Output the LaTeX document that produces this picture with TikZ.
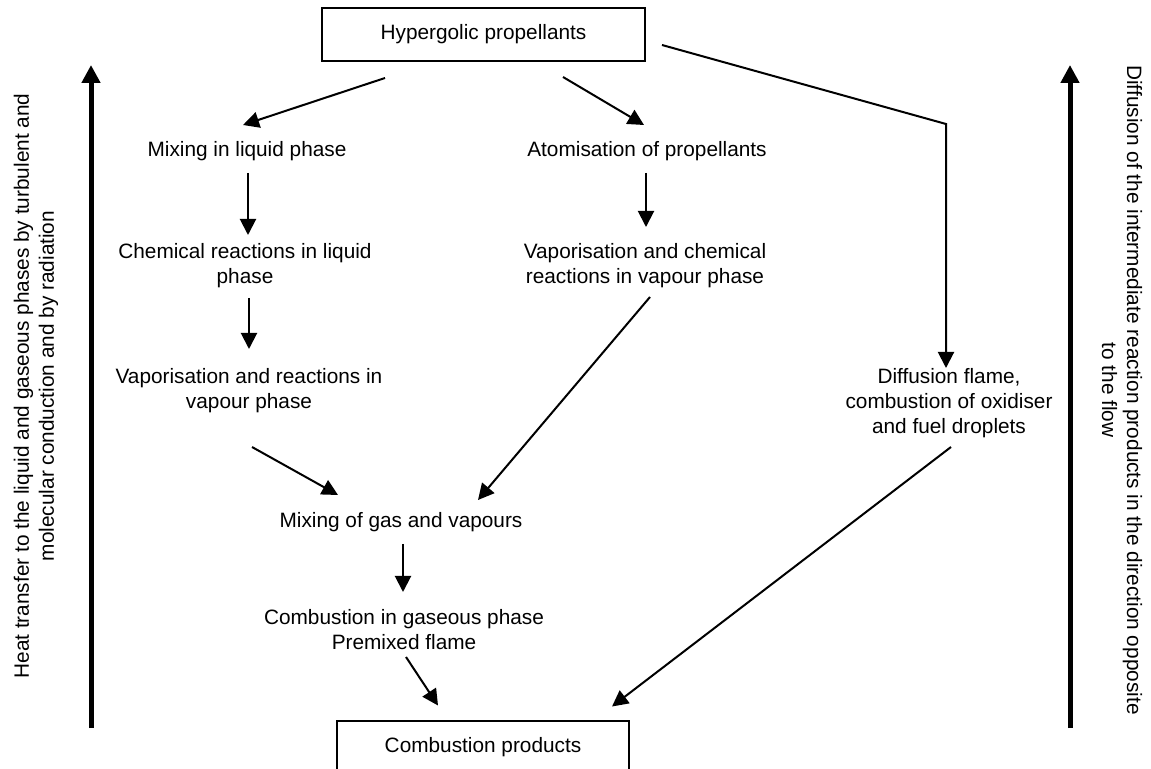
\documentclass[tikz,border=0pt]{standalone}
\usepackage{fontspec}
\setmainfont{Liberation Sans}
\usetikzlibrary{arrows.meta,calc}
\begin{document}
\begin{tikzpicture}[x=0.5pt,y=-0.5pt,font=\fontsize{10.4}{12.5}\selectfont,
  box/.style={draw,line width=1pt,minimum width=#1,minimum height=26.5pt,inner sep=0pt},
  txt/.style={align=center,inner sep=0pt},
  arr/.style={-{Triangle[length=8pt,width=8pt]},line width=1pt},
  bigarr/.style={-{Triangle[length=9pt,width=9pt]},line width=2.5pt}]
\clip (0,0) rectangle (1151,769);
\node[box=161.5pt](N1) at (483.5,34.5) {Hypergolic propellants};
\node[txt](N2) at (247,151) {Mixing in liquid phase};
\node[txt](N3) at (647,151) {Atomisation of propellants};
\node[txt](N4) at (245,266) {Chemical reactions in liquid\\phase};
\node[txt](N5) at (645,266) {Vaporisation and chemical\\reactions in vapour phase};
\node[txt](N6) at (249,391) {Vaporisation and reactions in\\vapour phase};
\node[txt](N7) at (949,403) {Diffusion flame,\\combustion of oxidiser\\and fuel droplets};
\node[txt](N8) at (401,522) {Mixing of gas and vapours};
\node[txt](N9) at (404,630) {Combustion in gaseous phase\\Premixed flame};
\node[box=146pt](N10) at (483,747.5) {Combustion products};
\node[txt,rotate=90](N11) at (36,386) {Heat transfer to the liquid and gaseous phases by turbulent and\\molecular conduction and by radiation};
\node[txt,rotate=-90](N12) at (1122,390) {Diffusion of the intermediate reaction products in the direction opposite\\to the flow};
\coordinate(K) at (946,124);
\coordinate(L1) at (91,728);
\coordinate(L2) at (91,65);
\coordinate(R1) at (1070,728);
\coordinate(R2) at (1070,65);
\draw[arr]($(N1)+(-98.5,43.5)$)--($(N2)+(-4,-26)$);
\draw[arr]($(N1)+(79.5,42.5)$)--($(N3)+(-3,-26)$);
\draw[arr]($(N1)+(178.5,10.5)$)--(K)--($(N7)+(-3,-35)$);
\draw[arr]($(N2)+(1,22)$)--($(N4)+(3,-31)$);
\draw[arr]($(N4)+(4,32)$)--($(N6)+(0,-42)$);
\draw[arr]($(N3)+(-1,22)$)--($(N5)+(1,-39)$);
\draw[arr]($(N5)+(5,31)$)--($(N8)+(77,-22)$);
\draw[arr]($(N6)+(3,56)$)--($(N8)+(-63,-27)$);
\draw[arr]($(N8)+(2,22)$)--($(N9)+(-1,-38)$);
\draw[arr]($(N9)+(2,27)$)--($(N10)+(-45,-42)$);
\draw[arr]($(N7)+(2,44)$)--($(N10)+(129,-41)$);
\draw[bigarr](L1)--(L2);
\draw[bigarr](R1)--(R2);
\end{tikzpicture}
\end{document}
